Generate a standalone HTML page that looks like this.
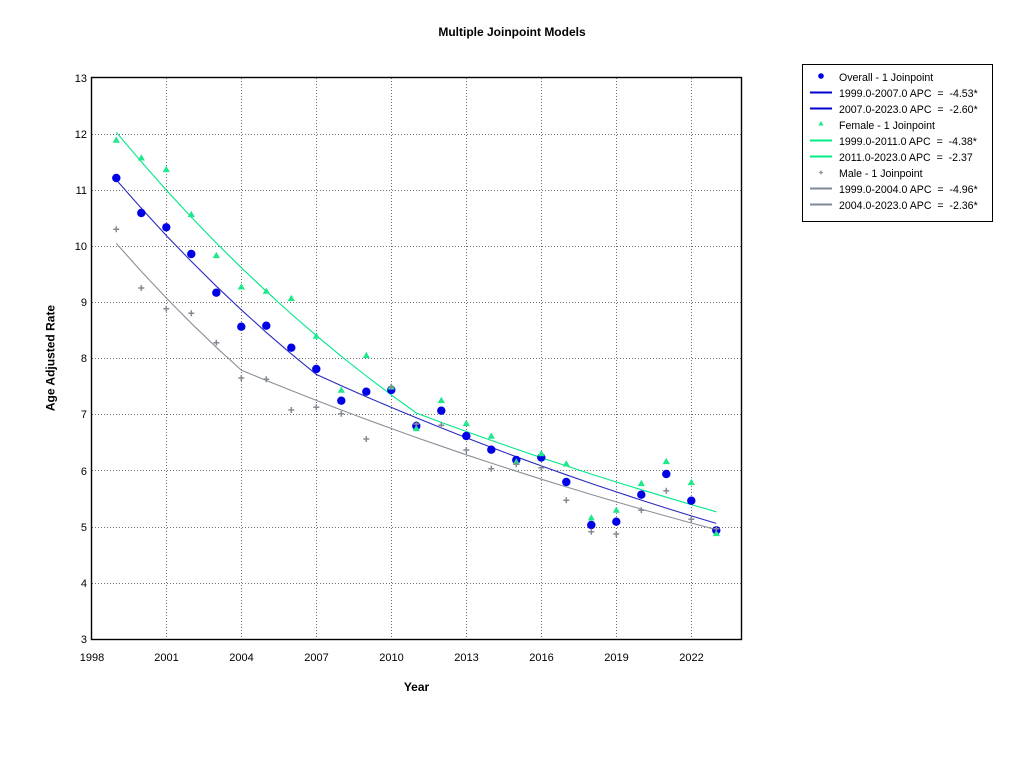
<!DOCTYPE html>
<html>
<head>
<meta charset="utf-8">
<style>
html,body{margin:0;padding:0;background:#fff;}
svg{display:block;}
text{font-family:"Liberation Sans",sans-serif;fill:#000;}
.tk{font-size:11px;}
.lg{font-size:10.6px;}
.b{font-weight:bold;font-size:12px;}
.g{stroke:#6e6e6e;stroke-width:1;stroke-dasharray:1,2;fill:none;}
</style>
</head>
<body>
<svg width="1024" height="768" viewBox="0 0 1024 768" xmlns="http://www.w3.org/2000/svg">
<rect x="0" y="0" width="1024" height="768" fill="#fff"/>
<text class="b" x="512" y="36" text-anchor="middle">Multiple Joinpoint Models</text>

<!-- grid -->
<g class="g">
<line x1="92" y1="134.5" x2="741" y2="134.5"/>
<line x1="92" y1="190.5" x2="741" y2="190.5"/>
<line x1="92" y1="246.5" x2="741" y2="246.5"/>
<line x1="92" y1="302.5" x2="741" y2="302.5"/>
<line x1="92" y1="358.5" x2="741" y2="358.5"/>
<line x1="92" y1="414.5" x2="741" y2="414.5"/>
<line x1="92" y1="470.5" x2="741" y2="470.5"/>
<line x1="92" y1="527.5" x2="741" y2="527.5"/>
<line x1="92" y1="583.5" x2="741" y2="583.5"/>
<line x1="166.5" y1="78" x2="166.5" y2="639"/>
<line x1="241.5" y1="78" x2="241.5" y2="639"/>
<line x1="316.5" y1="78" x2="316.5" y2="639"/>
<line x1="391.5" y1="78" x2="391.5" y2="639"/>
<line x1="466.5" y1="78" x2="466.5" y2="639"/>
<line x1="541.5" y1="78" x2="541.5" y2="639"/>
<line x1="616.5" y1="78" x2="616.5" y2="639"/>
<line x1="691.5" y1="78" x2="691.5" y2="639"/>
</g>
<rect x="91.5" y="77.5" width="650" height="562" fill="none" stroke="#000" stroke-width="1.4"/>

<!-- y tick labels -->
<g class="tk" text-anchor="end">
<text x="87" y="82">13</text>
<text x="87" y="138">12</text>
<text x="87" y="194">11</text>
<text x="87" y="250">10</text>
<text x="87" y="306">9</text>
<text x="87" y="362">8</text>
<text x="87" y="418">7</text>
<text x="87" y="475">6</text>
<text x="87" y="531">5</text>
<text x="87" y="587">4</text>
<text x="87" y="643">3</text>
</g>
<!-- x tick labels -->
<g class="tk" text-anchor="middle">
<text x="92" y="661">1998</text>
<text x="166.5" y="661">2001</text>
<text x="241.5" y="661">2004</text>
<text x="316.5" y="661">2007</text>
<text x="391.5" y="661">2010</text>
<text x="466.5" y="661">2013</text>
<text x="541.5" y="661">2016</text>
<text x="616.5" y="661">2019</text>
<text x="691.5" y="661">2022</text>
</g>
<text class="b" x="416.5" y="691" text-anchor="middle">Year</text>
<text class="b" transform="translate(54.5,358) rotate(-90)" text-anchor="middle">Age Adjusted Rate</text>

<!-- trend lines -->
<polyline fill="none" stroke="#00e887" stroke-width="1.1" points="116.3,132.2 141.3,161.8 166.3,190.1 191.3,217.1 216.3,243.0 241.3,267.7 266.3,291.3 291.3,314.0 316.3,335.6 341.3,356.3 366.3,376.0 391.3,394.9 416.3,413.0 441.3,422.4 466.3,431.5 491.3,440.4 516.3,449.1 541.3,457.7 566.3,465.9 591.3,474.1 616.3,482.0 641.3,489.7 666.3,497.2 691.3,504.6 716.3,511.8"/>
<polyline fill="none" stroke="#2a2ac0" stroke-width="1.1" points="116.3,179.9 141.3,208.3 166.3,235.5 191.3,261.4 216.3,286.2 241.3,309.8 266.3,332.4 291.3,353.9 316.3,374.4 341.3,385.7 366.3,396.7 391.3,407.4 416.3,417.8 441.3,427.9 466.3,437.8 491.3,447.4 516.3,456.8 541.3,465.9 566.3,474.8 591.3,483.5 616.3,491.9 641.3,500.1 666.3,508.1 691.3,515.9 716.3,523.4"/>
<polyline fill="none" stroke="#8a9099" stroke-width="1.1" points="116.3,243.4 141.3,271.4 166.3,298.0 191.3,323.3 216.3,347.3 241.3,370.1 266.3,380.5 291.3,390.5 316.3,400.4 341.3,410.0 366.3,419.4 391.3,428.5 416.3,437.5 441.3,446.2 466.3,454.8 491.3,463.1 516.3,471.2 541.3,479.2 566.3,486.9 591.3,494.5 616.3,501.9 641.3,509.1 666.3,516.1 691.3,523.0 716.3,529.7"/>

<!-- overall dots -->
<g fill="#0000e6">
<circle cx="116.3" cy="178" r="4.2"/>
<circle cx="141.3" cy="213" r="4.2"/>
<circle cx="166.3" cy="227.3" r="4.2"/>
<circle cx="191.3" cy="254" r="4.2"/>
<circle cx="216.3" cy="292.7" r="4.2"/>
<circle cx="241.3" cy="326.7" r="4.2"/>
<circle cx="266.3" cy="325.7" r="4.2"/>
<circle cx="291.3" cy="347.7" r="4.2"/>
<circle cx="316.3" cy="369" r="4.2"/>
<circle cx="341.3" cy="400.7" r="4.2"/>
<circle cx="366.3" cy="391.7" r="4.2"/>
<circle cx="391.3" cy="390" r="4.2"/>
<circle cx="416.3" cy="426" r="4.2"/>
<circle cx="441.3" cy="410.7" r="4.2"/>
<circle cx="466.3" cy="436" r="4.2"/>
<circle cx="491.3" cy="449.7" r="4.2"/>
<circle cx="516.3" cy="460" r="4.2"/>
<circle cx="541.3" cy="457.5" r="4.2"/>
<circle cx="566.3" cy="482" r="4.2"/>
<circle cx="591.3" cy="525" r="4.2"/>
<circle cx="616.3" cy="521.7" r="4.2"/>
<circle cx="641.3" cy="494.7" r="4.2"/>
<circle cx="666.3" cy="474" r="4.2"/>
<circle cx="691.3" cy="500.7" r="4.2"/>
<circle cx="716.3" cy="530.3" r="4.2"/>
</g>

<!-- female triangles -->
<g fill="#1ee88c">
<path d="M116.3,136.5 l3.6,6.3 h-7.2z"/>
<path d="M141.3,154.2 l3.6,6.3 h-7.2z"/>
<path d="M166.3,165.8 l3.6,6.3 h-7.2z"/>
<path d="M191.3,210.8 l3.6,6.3 h-7.2z"/>
<path d="M216.3,251.8 l3.6,6.3 h-7.2z"/>
<path d="M241.3,283.2 l3.6,6.3 h-7.2z"/>
<path d="M266.3,287.5 l3.6,6.3 h-7.2z"/>
<path d="M291.3,294.8 l3.6,6.3 h-7.2z"/>
<path d="M316.3,332.5 l3.6,6.3 h-7.2z"/>
<path d="M341.3,386.5 l3.6,6.3 h-7.2z"/>
<path d="M366.3,351.8 l3.6,6.3 h-7.2z"/>
<path d="M391.3,383.2 l3.6,6.3 h-7.2z"/>
<path d="M416.3,424.8 l3.6,6.3 h-7.2z"/>
<path d="M441.3,396.8 l3.6,6.3 h-7.2z"/>
<path d="M466.3,419.8 l3.6,6.3 h-7.2z"/>
<path d="M491.3,432.5 l3.6,6.3 h-7.2z"/>
<path d="M516.3,458.2 l3.6,6.3 h-7.2z"/>
<path d="M541.3,450 l3.6,6.3 h-7.2z"/>
<path d="M566.3,460.2 l3.6,6.3 h-7.2z"/>
<path d="M591.3,514.2 l3.6,6.3 h-7.2z"/>
<path d="M616.3,506.5 l3.6,6.3 h-7.2z"/>
<path d="M641.3,479.8 l3.6,6.3 h-7.2z"/>
<path d="M666.3,457.8 l3.6,6.3 h-7.2z"/>
<path d="M691.3,478.8 l3.6,6.3 h-7.2z"/>
<path d="M716.3,529.8 l3.6,6.3 h-7.2z"/>
</g>

<!-- male plus -->
<g stroke="#858a92" stroke-width="1.5" fill="none">
<path d="M113.3,229.3h6M116.3,226.3v6"/>
<path d="M138.3,288h6M141.3,285v6"/>
<path d="M163.3,308.7h6M166.3,305.7v6"/>
<path d="M188.3,313.3h6M191.3,310.3v6"/>
<path d="M213.3,342.7h6M216.3,339.7v6"/>
<path d="M238.3,378h6M241.3,375v6"/>
<path d="M263.3,379.3h6M266.3,376.3v6"/>
<path d="M288.3,410h6M291.3,407v6"/>
<path d="M313.3,407.3h6M316.3,404.3v6"/>
<path d="M338.3,413.7h6M341.3,410.7v6"/>
<path d="M363.3,439h6M366.3,436v6"/>
<path d="M388.3,386.7h6M391.3,383.7v6"/>
<path d="M413.3,424h6M416.3,421v6"/>
<path d="M438.3,425.3h6M441.3,422.3v6"/>
<path d="M463.3,450h6M466.3,447v6"/>
<path d="M488.3,468.7h6M491.3,465.7v6"/>
<path d="M513.3,464.3h6M516.3,461.3v6"/>
<path d="M538.3,467.7h6M541.3,464.7v6"/>
<path d="M563.3,500.3h6M566.3,497.3v6"/>
<path d="M588.3,531.7h6M591.3,528.7v6"/>
<path d="M613.3,534h6M616.3,531v6"/>
<path d="M638.3,510.3h6M641.3,507.3v6"/>
<path d="M663.3,490.7h6M666.3,487.7v6"/>
<path d="M688.3,519.3h6M691.3,516.3v6"/>
<path d="M713.3,528.7h6M716.3,525.7v6"/>
</g>

<!-- legend -->
<rect x="802.5" y="64.5" width="190" height="157" fill="#fff" stroke="#000" stroke-width="1"/>
<circle cx="821" cy="76" r="2.8" fill="#0000e6"/>
<line x1="810" y1="92.5" x2="832" y2="92.5" stroke="#0000cd" stroke-width="2"/>
<line x1="810" y1="108.5" x2="832" y2="108.5" stroke="#0000cd" stroke-width="2"/>
<path d="M821,121 l2.6,4.5 h-5.2z" fill="#1ee88c"/>
<line x1="810" y1="140.5" x2="832" y2="140.5" stroke="#00ee88" stroke-width="2"/>
<line x1="810" y1="156.5" x2="832" y2="156.5" stroke="#00ee88" stroke-width="2"/>
<path d="M819,172.5h4M821,170.5v4" stroke="#909090" stroke-width="1.2"/>
<line x1="810" y1="188.5" x2="832" y2="188.5" stroke="#7b8896" stroke-width="2"/>
<line x1="810" y1="204.5" x2="832" y2="204.5" stroke="#7b8896" stroke-width="2"/>
<g class="lg">
<text x="839" y="81">Overall - 1 Joinpoint</text>
<text x="839" y="97">1999.0-2007.0 APC &#160;= &#160;-4.53*</text>
<text x="839" y="113">2007.0-2023.0 APC &#160;= &#160;-2.60*</text>
<text x="839" y="129">Female - 1 Joinpoint</text>
<text x="839" y="145">1999.0-2011.0 APC &#160;= &#160;-4.38*</text>
<text x="839" y="161">2011.0-2023.0 APC &#160;= &#160;-2.37</text>
<text x="839" y="177">Male - 1 Joinpoint</text>
<text x="839" y="193">1999.0-2004.0 APC &#160;= &#160;-4.96*</text>
<text x="839" y="209">2004.0-2023.0 APC &#160;= &#160;-2.36*</text>
</g>
</svg>
</body>
</html>
